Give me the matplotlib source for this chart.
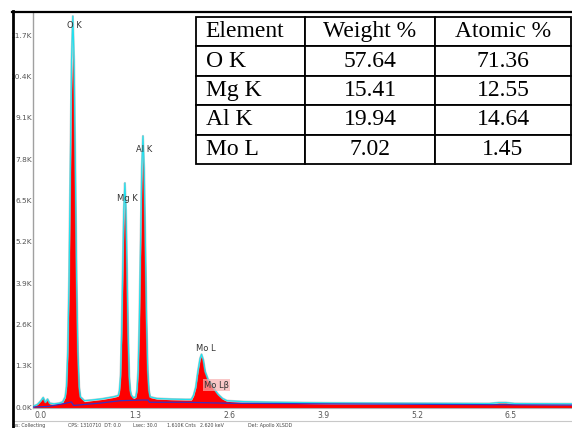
import matplotlib
matplotlib.use("Agg")
import matplotlib.pyplot as plt
from matplotlib.lines import Line2D
from matplotlib.patches import Rectangle

W, H = 572, 428

# ---- spectrum data (energy keV, counts in K) ----
energy = [-0.11, -0.05, 0.0, 0.03, 0.06, 0.09, 0.12, 0.18, 0.25, 0.30,
          0.335, 0.3525, 0.37, 0.3875, 0.405, 0.4225, 0.44, 0.4575, 0.475, 0.4925, 0.51, 0.5275, 0.545,
          0.60, 0.70, 0.85, 1.00, 1.05,
          1.07, 1.085, 1.10, 1.115, 1.13, 1.145, 1.16, 1.175, 1.19, 1.205, 1.22, 1.235, 1.25,
          1.28,
          1.311, 1.3275, 1.344, 1.3605, 1.377, 1.3935, 1.41, 1.4265, 1.443, 1.4595, 1.476, 1.4925, 1.509,
          1.60, 1.80, 2.00,
          2.08, 2.11, 2.14, 2.17, 2.20, 2.22, 2.245, 2.27, 2.31, 2.36, 2.41, 2.45, 2.51, 2.57,
          2.80, 3.20, 4.00, 5.00, 6.20, 6.33, 6.43, 6.55, 7.50]
counts = [0.02, 0.08, 0.20, 0.30, 0.15, 0.25, 0.10, 0.08, 0.10, 0.14,
          0.30, 0.60, 1.6, 3.7, 6.9, 10.0, 11.3, 10.0, 6.9, 3.7, 1.6, 0.60, 0.30,
          0.17, 0.20, 0.24, 0.30, 0.33,
          0.35, 0.50, 0.90, 2.1, 3.95, 5.7, 6.5, 5.7, 3.95, 2.1, 0.90, 0.50, 0.35,
          0.27,
          0.30, 0.50, 1.1, 2.6, 4.85, 7.05, 8.0, 7.05, 4.85, 2.6, 1.1, 0.50, 0.30,
          0.25, 0.23, 0.22,
          0.22, 0.35, 0.60, 1.10, 1.50, 1.62, 1.45, 1.10, 0.85, 0.70, 0.50, 0.38, 0.25, 0.18,
          0.14, 0.12, 0.10, 0.09, 0.08, 0.13, 0.13, 0.08, 0.07]
overlay = [0.02, 0.08, 0.20, 0.30, 0.15, 0.25, 0.12, 0.10, 0.12, 0.16,
           0.32, 0.65, 1.75, 4.0, 7.5, 10.9, 12.3, 10.9, 7.5, 4.0, 1.75, 0.65, 0.32,
           0.20, 0.22, 0.26, 0.32, 0.35,
           0.37, 0.52, 0.98, 2.3, 4.3, 6.2, 7.05, 6.2, 4.3, 2.3, 0.98, 0.52, 0.37,
           0.29,
           0.32, 0.53, 1.17, 2.77, 5.17, 7.52, 8.53, 7.52, 5.17, 2.77, 1.17, 0.53, 0.32,
           0.27, 0.25, 0.24,
           0.24, 0.37, 0.62, 1.12, 1.53, 1.66, 1.48, 1.12, 0.87, 0.72, 0.52, 0.40, 0.27, 0.20,
           0.17, 0.15, 0.13, 0.12, 0.11, 0.14, 0.14, 0.11, 0.10]
bg_energy = [-0.11, 0.10, 0.30, 0.42, 0.45, 0.80, 1.10, 1.40, 1.48, 1.50,
             2.00, 2.60, 4.00, 7.50]
bg_counts = [0.0, 0.02, 0.10, 0.16, 0.05, 0.12, 0.20, 0.22, 0.22, 0.15,
             0.15, 0.12, 0.10, 0.06]

x_ticks = [0.0, 1.3, 2.6, 3.9, 5.2, 6.5]
y_ticks = [0.0, 1.3, 2.6, 3.9, 5.2, 6.5, 7.8, 9.1, 10.4, 11.7]

peak_labels = ["O K", "Mg K", "Al K", "Mo L", "Mo Lβ"]
peak_label_x = [0.456, 1.196, 1.43, 2.28, 2.43]
peak_label_y = [12.0, 6.55, 8.09, 1.83, 0.69]

# ---- table data ----
col_labels = ["Element", "Weight %", "Atomic %"]
elements = ["O K", "Mg K", "Al K", "Mo L"]
weight_pct = ["57.64", "15.41", "19.94", "7.02"]
atomic_pct = ["71.36", "12.55", "14.64", "1.45"]

status_texts = ["Status: Collecting", "CPS: 1310710  DT: 0.0", "Lsec: 30.0",
                "1.610K Cnts", "2.620 keV", "Det: Apollo XLSDD"]
status_x = [45, 68, 133, 167, 200, 248]

fig = plt.figure(figsize=(W / 100, H / 100), dpi=100)
fig.patch.set_facecolor("white")

def fx(px):
    return px / W

def fy(py):
    return 1 - py / H

ax_l, ax_r, ax_t, ax_b = 33, 572, 12, 408
ax = fig.add_axes([fx(ax_l), fy(ax_b), (ax_r - ax_l) / W, (ax_b - ax_t) / H])
ymin = -0.03
ax.set_xlim(-0.111, 7.344)
ax.set_ylim(ymin, 12.43)

ax.fill_between(energy, counts, ymin, color="#ff0000", linewidth=0, zorder=2)
ax.plot(energy, overlay, color="#999999", lw=1.6, zorder=3, alpha=0.5)
ax.plot(energy, overlay, color="#22e0ee", lw=0.9, zorder=4)
ax.plot(bg_energy, bg_counts, color="#3a2fc0", lw=0.9, zorder=5)

for s in ["top", "right"]:
    ax.spines[s].set_visible(False)
ax.spines["left"].set_color("#a0a0a0")
ax.spines["bottom"].set_color("#b0b0b0")
ax.spines["left"].set_linewidth(1.0)
ax.spines["bottom"].set_linewidth(0.8)

ax.set_xticks(x_ticks)
ax.set_xticklabels([f"{v:.1f}" for v in x_ticks])
ax.set_yticks(y_ticks)
ax.set_yticklabels([f"{v:.1f}K" for v in y_ticks])
ax.tick_params(axis="x", length=0, pad=2.5, labelsize=5.5, labelcolor="#555555")
ax.tick_params(axis="y", length=0, pad=0.8, labelsize=5.3, labelcolor="#555555")

for lab, lx, ly in zip(peak_labels, peak_label_x, peak_label_y):
    kw = dict(ha="center", va="center", fontsize=6, color="#333333", zorder=6)
    if lab == "Mo Lβ":
        kw["bbox"] = dict(boxstyle="square,pad=0.15", facecolor="#f7b0b0",
                          edgecolor="none", alpha=0.7)
    ax.text(lx, ly, lab, **kw)

# ---- table ----
tbl_l, tbl_r, tbl_t, tbl_b = 196, 571, 17, 164
bx = (tbl_l - ax_l) / (ax_r - ax_l)
bw = (tbl_r - tbl_l) / (ax_r - ax_l)
by = (ax_b - tbl_b) / (ax_b - ax_t)
bh = (tbl_b - tbl_t) / (ax_b - ax_t)
cell_text = [[e, w, a] for e, w, a in zip(elements, weight_pct, atomic_pct)]
tbl = ax.table(cellText=cell_text, colLabels=col_labels,
               bbox=[bx, by, bw, bh], cellLoc="center", zorder=10)
tbl.auto_set_font_size(False)
col_w = [109 / 375, 130 / 375, 136 / 375]
for (r, c), cell in tbl.get_celld().items():
    cell.set_width(col_w[c] * bw)
    cell.set_edgecolor("black")
    cell.set_linewidth(1.3)
    cell.set_facecolor("white")
    t = cell.get_text()
    t.set_fontfamily("Liberation Serif")
    t.set_fontsize(17)
    t.set_color("black")
    if c == 0:
        cell._loc = "left"
        cell.PAD = 0.09
        t.set_ha("left")

# ---- status bar and frame ----
fig.add_artist(Line2D([fx(14), fx(572)], [fy(421), fy(421)], color="#c8c8c8", lw=0.8))
for txt, sx in zip(status_texts, status_x):
    ha = "right" if txt.startswith("Status") else "left"
    fig.text(fx(sx), fy(425.5), txt, fontsize=3.4, color="#444444", ha=ha, va="center")

fig.add_artist(Rectangle((0, 0), fx(12), 1, transform=fig.transFigure,
                         facecolor="white", edgecolor="none", zorder=20))
fig.add_artist(Rectangle((0, fy(10)), 1, 1 - fy(10), transform=fig.transFigure,
                         facecolor="white", edgecolor="none", zorder=20))
fig.add_artist(Line2D([fx(13), fx(13)], [fy(10.5), 0], color="black", lw=2.0, zorder=21))
fig.add_artist(Line2D([fx(12), fx(572)], [fy(11.5), fy(11.5)], color="black", lw=1.6, zorder=21))

fig.savefig("out.png", dpi=100, facecolor="white")
